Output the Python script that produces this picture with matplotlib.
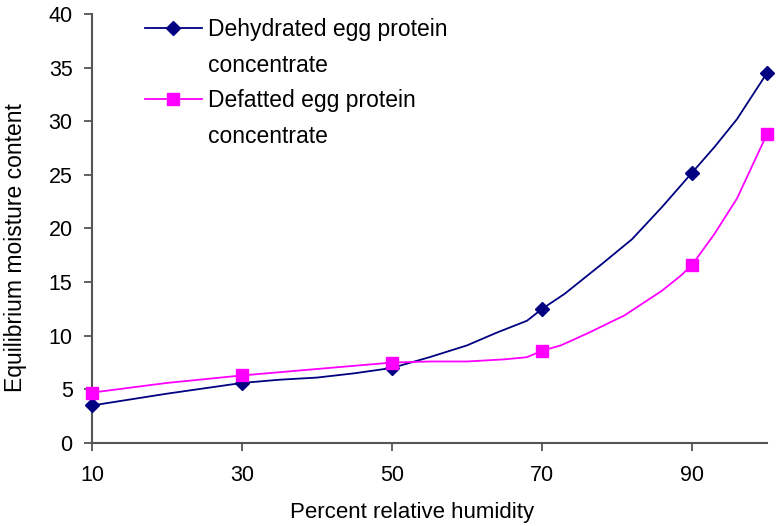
import matplotlib.pyplot as plt
from matplotlib.lines import Line2D

plt.rcParams['font.family'] = ['Liberation Sans', 'DejaVu Sans']

# percent relative humidity (traced points along each line)
rh_dehyd = [10, 20, 30, 35, 40, 45, 50, 55, 60, 64, 68, 70, 73, 78, 82, 86, 90, 93, 96, 100]
emc_dehyd = [3.5, 4.6, 5.6, 5.9, 6.1, 6.5, 7.0, 8.0, 9.1, 10.3, 11.4, 12.5, 13.9, 16.7, 19.0, 22.0, 25.2, 27.6, 30.2, 34.5]
marks_dehyd = [0, 2, 6, 11, 16, 19]

rh_defat = [10, 20, 30, 40, 50, 55, 60, 65, 68, 70, 72.5, 76, 81, 86, 88.5, 90, 93, 96, 100]
emc_defat = [4.7, 5.6, 6.3, 6.9, 7.5, 7.6, 7.6, 7.8, 8.0, 8.6, 9.1, 10.2, 11.9, 14.2, 15.6, 16.6, 19.5, 22.8, 28.8]
marks_defat = [0, 2, 4, 9, 15, 18]

xticks = [10, 30, 50, 70, 90]
yticks = [0, 5, 10, 15, 20, 25, 30, 35, 40]

fig = plt.figure(figsize=(7.76, 5.26), dpi=100)
ax = fig.add_axes([92 / 776, 1 - 443 / 526, (767 - 92) / 776, (443 - 14) / 526])

l1, = ax.plot(rh_dehyd, emc_dehyd, color='#000080', lw=1.3, marker='D', ms=7.5,
              markevery=marks_dehyd, clip_on=False, zorder=3)
l2, = ax.plot(rh_defat, emc_defat, color='#ff00ff', lw=1.3, marker='s', ms=8,
              markevery=marks_defat, clip_on=False, zorder=3)

ax.set_xlim(10, 100)
ax.set_ylim(0, 40)
ax.set_xticks(xticks)
ax.set_yticks(yticks)
for s in ['top', 'right']:
    ax.spines[s].set_visible(False)
for s in ['left', 'bottom']:
    ax.spines[s].set_color('#555555')
    ax.spines[s].set_linewidth(1.5)
ax.tick_params(colors='#555555', width=1.3, length=6, labelsize=15.5, labelcolor='black')
ax.tick_params(axis='x', pad=10)
ax.tick_params(axis='y', pad=8)
ax.set_xlabel('Percent relative humidity', fontsize=16)
ax.set_ylabel('Equilibrium moisture content', fontsize=16.5)
ax.xaxis.set_label_coords(0.474, -0.138)
ax.yaxis.set_label_coords(-0.097, 0.455)

blank = Line2D([], [], color='none')
ax.legend([l1, blank, l2, blank],
          ['Dehydrated egg protein', 'concentrate', 'Defatted egg protein', 'concentrate'],
          loc='upper left', bbox_to_anchor=(0.078, 0.99), frameon=False, fontsize=16.5,
          handlelength=2.5, handletextpad=0.25, labelspacing=0.55,
          borderpad=0, borderaxespad=0)

plt.savefig('out.png', dpi=100)
